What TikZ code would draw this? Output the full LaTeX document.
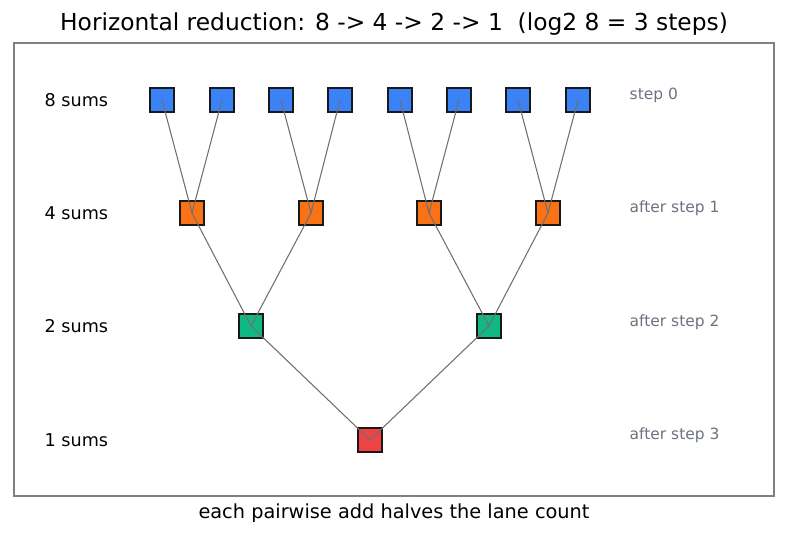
\documentclass[tikz,border=0pt]{standalone}
\usepackage{fontspec}
\setmainfont{DejaVu Sans}
\usetikzlibrary{positioning}

\definecolor{laneblue}{HTML}{3B82F6}
\definecolor{laneorange}{HTML}{F97316}
\definecolor{lanegreen}{HTML}{10B981}
\definecolor{lanered}{HTML}{EF4444}
\definecolor{linegray}{HTML}{707070}
\definecolor{notegray}{HTML}{6B7280}

\tikzstyle{lane} = [rectangle,
minimum width=18pt,
minimum height=18pt,
inner sep=0pt,
draw=black!90,
line width=1pt]
\tikzstyle{sum8} = [lane, fill=laneblue]
\tikzstyle{sum4} = [lane, fill=laneorange]
\tikzstyle{sum2} = [lane, fill=lanegreen]
\tikzstyle{sum1} = [lane, fill=lanered]
\tikzstyle{link} = [draw=linegray, line width=0.8pt]
\tikzstyle{rowlabel} = [anchor=west, font=\fontsize{13.2}{15}\selectfont]
\tikzstyle{steplabel} = [anchor=west, text=notegray, font=\fontsize{11.6}{13}\selectfont]

\begin{document}
\begin{tikzpicture}[x=0.75pt, y=-0.75pt]
\useasboundingbox (0,0) rectangle (787,537);

% Frame and captions
\draw [draw=black!50, line width=0.9pt] (14,43) rectangle (774,496);
\node (title) at (394,24) {\fontsize{17.5}{20}\selectfont Horizontal reduction: 8 -> 4 -> 2 -> 1\ \ (log2 8 = 3 steps)};
\node (caption) at (394,513) {\fontsize{14.5}{16}\selectfont each pairwise add halves the lane count};

% Row labels
\node (r8) [rowlabel] at (40,100) {8 sums};
\node (r4) [rowlabel] at (40,213) {4 sums};
\node (r2) [rowlabel] at (40,326) {2 sums};
\node (r1) [rowlabel] at (40,440) {1 sums};

\node (s0) [steplabel] at (625,95) {step 0};
\node (s1) [steplabel] at (625,208) {after step 1};
\node (s2) [steplabel] at (625,322) {after step 2};
\node (s3) [steplabel] at (625,435) {after step 3};

% Nodes
\node (b1) [sum8] at (162,100) {};
\node (b2) [sum8] at (222,100) {};
\node (b3) [sum8] at (281,100) {};
\node (b4) [sum8] at (340,100) {};
\node (b5) [sum8] at (400,100) {};
\node (b6) [sum8] at (459,100) {};
\node (b7) [sum8] at (518,100) {};
\node (b8) [sum8] at (578,100) {};

\node (o1) [sum4] at (192,213) {};
\node (o2) [sum4] at (311,213) {};
\node (o3) [sum4] at (429,213) {};
\node (o4) [sum4] at (548,213) {};

\node (g1) [sum2] at (251,326) {};
\node (g2) [sum2] at (489,326) {};

\node (final) [sum1] at (370,440) {};

% Connections
\draw [link] (b1.center) -- (o1.center);
\draw [link] (b2.center) -- (o1.center);
\draw [link] (b3.center) -- (o2.center);
\draw [link] (b4.center) -- (o2.center);
\draw [link] (b5.center) -- (o3.center);
\draw [link] (b6.center) -- (o3.center);
\draw [link] (b7.center) -- (o4.center);
\draw [link] (b8.center) -- (o4.center);

\draw [link] (o1.center) -- (g1.center);
\draw [link] (o2.center) -- (g1.center);
\draw [link] (o3.center) -- (g2.center);
\draw [link] (o4.center) -- (g2.center);

\draw [link] (g1.center) -- (final.center);
\draw [link] (g2.center) -- (final.center);

\end{tikzpicture}
\end{document}
